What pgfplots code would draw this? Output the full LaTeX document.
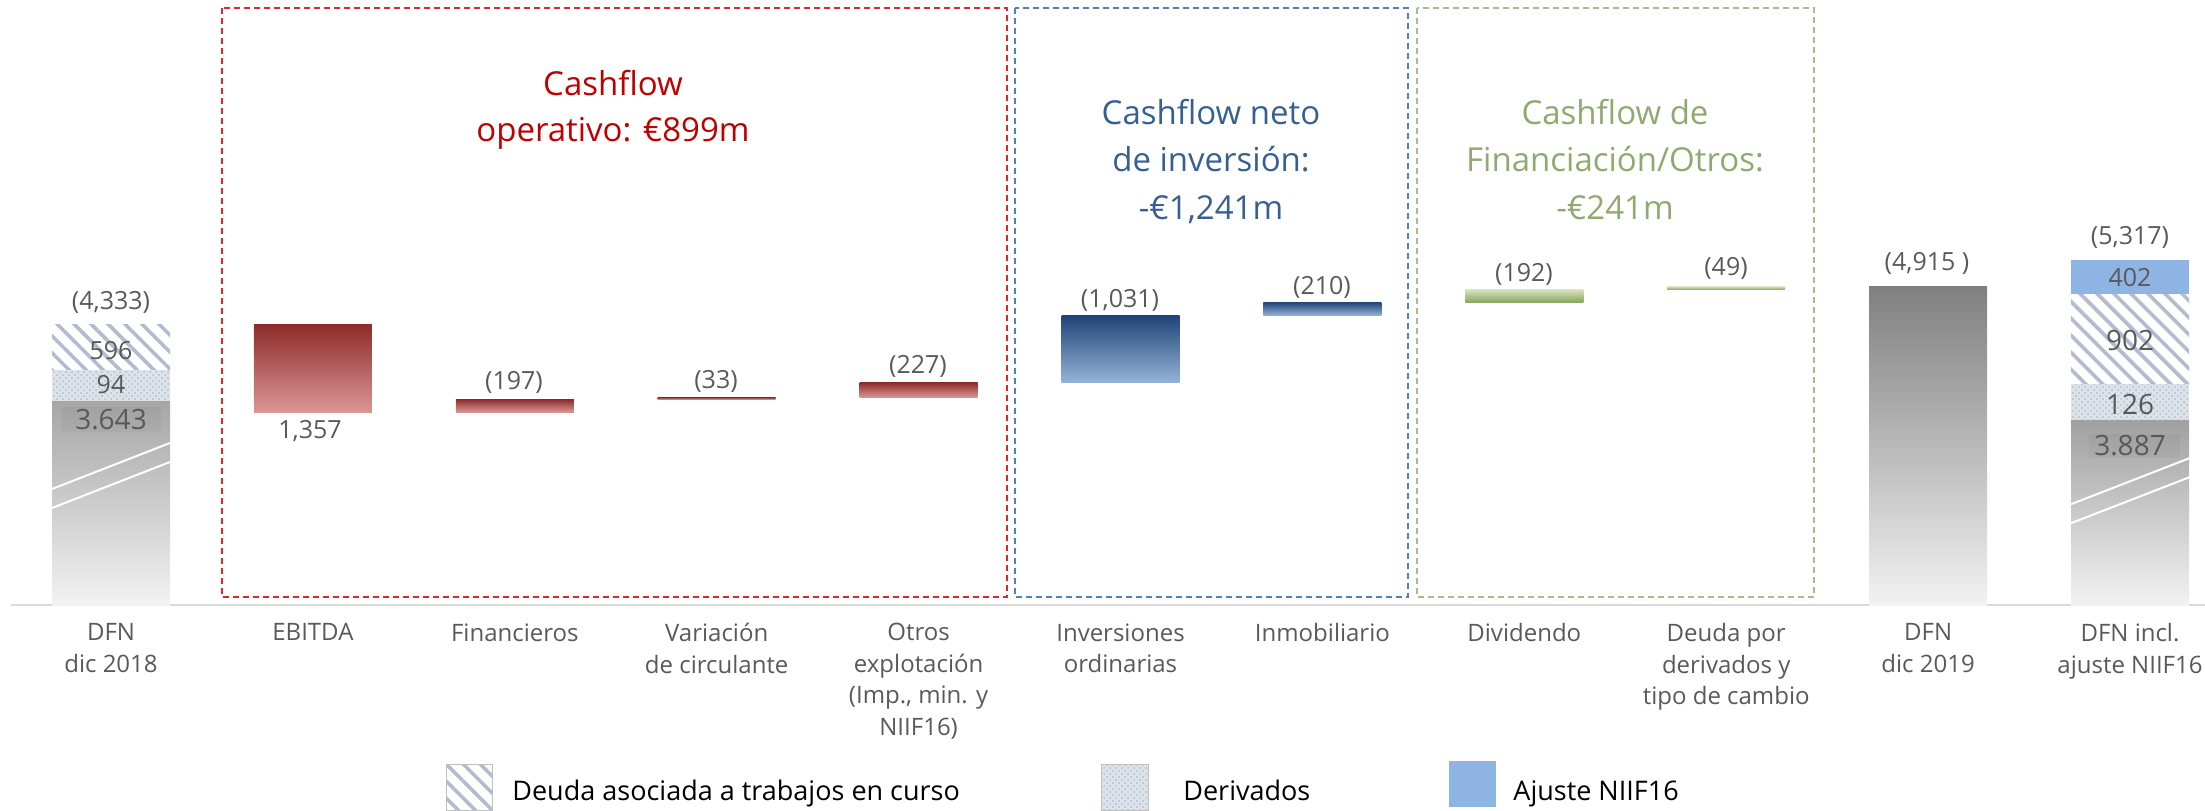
\documentclass[border=0pt]{standalone}
\usepackage{fontspec}
\setmainfont{Open Sans}
\usepackage{pgfplots}
\pgfplotsset{compat=1.18}
\usetikzlibrary{patterns,patterns.meta}

\definecolor{labgray}{HTML}{595959}
\definecolor{basegray}{HTML}{D9D9D9}
\definecolor{titred}{HTML}{C00000}
\definecolor{titblue}{HTML}{366092}
\definecolor{titgreen}{HTML}{8FAA6E}
\definecolor{boxred}{HTML}{E0262C}
\definecolor{boxblue}{HTML}{4F81BD}
\definecolor{boxgreen}{HTML}{A8BC8E}
\definecolor{redtop}{HTML}{8E2B2B}
\definecolor{redbot}{HTML}{DA9694}
\definecolor{bluetop}{HTML}{1F4478}
\definecolor{bluebot}{HTML}{95B3D7}
\definecolor{greentop}{HTML}{D5E2BA}
\definecolor{greenbot}{HTML}{8AA663}
\definecolor{hatchc}{HTML}{B3BBCF}
\definecolor{dotbg}{HTML}{DDE3EA}
\definecolor{dotc}{HTML}{B2BDCB}
\definecolor{niif}{HTML}{8DB4E2}

\newcommand{\lbl}{\fontsize{12.5}{15}\selectfont}
\newcommand{\lblb}{\fontsize{14}{16}\selectfont}

\pgfplotsset{
  wf/.style={
    at={(0pt,102.5pt)}, anchor=south west,
    scale only axis, width=1102.5pt, height=302.5pt,
    xmin=-0.5498, xmax=10.3715, ymin=0, ymax=9336,
    enlargelimits=false,
    ybar stacked, bar width=59pt,
  },
  gap/.style={draw=none, fill=none},
  redbar/.style={draw=none, top color=redtop, bottom color=redbot},
  bluebar/.style={draw=none, top color=bluetop, bottom color=bluebot},
  greenbar/.style={draw=none, top color=greentop, bottom color=greenbot},
  dotbar/.style={draw=none, fill=dotbg, postaction={pattern=crosshatch dots, pattern color=dotc}},
  hatchbar/.style={draw=none, fill=white, postaction={pattern={Lines[angle=-45,distance=6pt,line width=1.8pt]}, pattern color=hatchc}},
}

\begin{document}
\begin{tikzpicture}
\useasboundingbox (0,0) rectangle (1102.5pt,405pt);
\begin{scope}[x=0.5pt,y=-0.5pt,yshift=405pt]
  \draw[basegray, line width=1pt] (11,605) -- (2205,605);
\end{scope}
% DFN dic 2018 (segments drawn with the heights they have in the picture)
\begin{axis}[wf,
  axis line style={draw=none},
  major tick length=0pt,
  ytick=\empty,
  xtick={0,...,10},
  xticklabels={{DFN\\dic 2018}, EBITDA, Financieros, {Variación\\de circulante},
    {Otros\\explotación\\(Imp., min. y\\NIIF16)}, {Inversiones\\ordinarias}, Inmobiliario,
    Dividendo, {Deuda por\\derivados y\\tipo de cambio}, {DFN\\dic 2019}, {DFN incl.\\ajuste NIIF16}},
  xticklabel style={align=center, font=\fontsize{12}{15.75}\selectfont, text=labgray, inner sep=0pt, yshift=-9pt},
]
\addplot[draw=none, top color=black!35, bottom color=black!5] coordinates {(0,3148)};
\addplot[dotbar] coordinates {(0,478)};
\addplot[hatchbar] coordinates {(0,710)};
\end{axis}
% EBITDA
\begin{axis}[wf, hide axis]
\addplot[gap] coordinates {(1,2976)};
\addplot[redbar] coordinates {(1,1357)};
\end{axis}
% remaining steps of the waterfall
\begin{axis}[wf, hide axis]
\addplot[gap] coordinates {(2,2976)};
\addplot[redbar] coordinates {(2,197)};    % Financieros
\addplot[redbar] coordinates {(3,33)};     % Variacion de circulante
\addplot[redbar] coordinates {(4,227)};    % Otros explotacion
\addplot[bluebar] coordinates {(5,1031)};  % Inversiones ordinarias
\addplot[bluebar] coordinates {(6,210)};   % Inmobiliario
\addplot[greenbar] coordinates {(7,192)};  % Dividendo
\addplot[greenbar] coordinates {(8,49)};   % Deuda por derivados
\end{axis}
% DFN dic 2019
\begin{axis}[wf, hide axis]
\addplot[draw=none, top color=black!50, bottom color=black!5] coordinates {(9,4915)};
\end{axis}
% DFN incl. ajuste NIIF16
\begin{axis}[wf, hide axis]
\addplot[draw=none, top color=black!37, bottom color=black!5] coordinates {(10,2844)};
\addplot[dotbar] coordinates {(10,566)};
\addplot[hatchbar] coordinates {(10,1389)};
\addplot[draw=none, fill=niif] coordinates {(10,518)};
\end{axis}

\begin{scope}[x=0.5pt,y=-0.5pt,yshift=405pt]
  % axis-break marks
  \draw[white, line width=1pt] (52,489) -- (170,443);
  \draw[white, line width=1pt] (52,508) -- (170,462);
  \draw[white, line width=1pt] (2069,505) -- (2190,458);
  \draw[white, line width=1pt] (2069,524) -- (2190,477);
  % group boxes
  \draw[boxred, line width=0.9pt, dash pattern=on 3pt off 2pt] (222,8) rectangle (1007,597);
  \draw[boxblue, line width=0.9pt, dash pattern=on 3pt off 2pt] (1015,8) rectangle (1408,597);
  \draw[boxgreen, line width=0.9pt, dash pattern=on 3pt off 2pt] (1417,8) rectangle (1814,597);
  % group titles
  \begin{scope}[every node/.style={anchor=base, font=\fontsize{16.5}{20}\selectfont, inner sep=0pt}]
    \node[text=titred] at (613,96) {Cashflow};
    \node[text=titred] at (613,142) {operativo: €899m};
    \node[text=titblue] at (1211,125) {Cashflow neto};
    \node[text=titblue] at (1211,172) {de inversión:};
    \node[text=titblue] at (1211,220) {-€1,241m};
    \node[text=titgreen] at (1615,125) {Cashflow de};
    \node[text=titgreen] at (1615,172) {Financiación/Otros:};
    \node[text=titgreen] at (1615,220) {-€241m};
  \end{scope}
  % value labels
  \fill[black, opacity=0.03] (62,407) rectangle (161,432);
  \fill[black, opacity=0.03] (2089,434) rectangle (2180,458);
  \begin{scope}[every node/.style={text=labgray, inner sep=0pt}]
    \node[font=\lbl] at (111,302) {(4,333)};
    \node[font=\lbl] at (111,351) {596};
    \node[font=\lbl] at (111,385) {94};
    \node[font=\lblb] at (111,420) {3.643};
    \node[font=\lbl] at (310,431) {1,357};
    \node[font=\lbl] at (514,382) {(197)};
    \node[font=\lbl] at (716,381) {(33)};
    \node[font=\lbl] at (918,366) {(227)};
    \node[font=\lbl] at (1120,300) {(1,031)};
    \node[font=\lbl] at (1322,287) {(210)};
    \node[font=\lbl] at (1524,274) {(192)};
    \node[font=\lbl] at (1726,268) {(49)};
    \node[font=\lbl] at (1927,263) {(4,915 )};
    \node[font=\lbl] at (2130,237) {(5,317)};
    \node[font=\lbl] at (2130,278) {402};
    \node[font=\lblb] at (2130,340) {902};
    \node[font=\lblb] at (2130,404) {126};
    \node[font=\lblb] at (2130,446) {3.887};
  \end{scope}
  % legend
  \fill[white] (446,764) rectangle (492,810);
  \path[pattern={Lines[angle=-45,distance=6pt,line width=1.8pt]}, pattern color=hatchc] (446,764) rectangle (492,810);
  \draw[black!25, line width=0.5pt] (446,764) rectangle (492,810);
  \fill[dotbg] (1101,764) rectangle (1148,810);
  \path[pattern=crosshatch dots, pattern color=dotc] (1101,764) rectangle (1148,810);
  \draw[black!25, line width=0.5pt] (1101,764) rectangle (1148,810);
  \fill[niif] (1449,761) rectangle (1496,807);
  \begin{scope}[every node/.style={anchor=base west, inner sep=0pt, font=\fontsize{13.5}{16}\selectfont, text=black}]
    \node at (512,800) {Deuda asociada a trabajos en curso};
    \node at (1183,800) {Derivados};
    \node at (1513,800) {Ajuste NIIF16};
  \end{scope}
\end{scope}
\end{tikzpicture}
\end{document}
